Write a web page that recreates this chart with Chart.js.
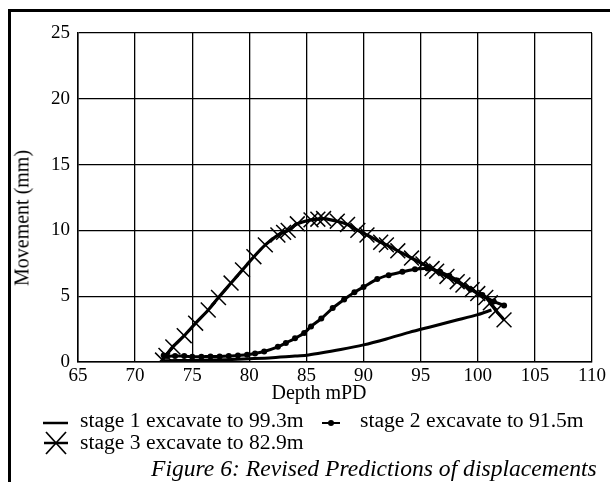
<!DOCTYPE html>
<html>
<head>
<meta charset="utf-8">
<script src="https://cdn.jsdelivr.net/npm/chart.js@4.4.1/dist/chart.umd.min.js"></script>
<style>
    body { margin: 0; background: #fff; }
    #wrap { position: relative; width: 610px; height: 482px; overflow: hidden; font-family: "Liberation Serif", "DejaVu Serif", serif; color: #000; }
    #frame { position: absolute; left: 8px; top: 9px; width: 700px; height: 600px; border-left: 3px solid #000; border-top: 3px solid #000; }
    #chart { position: absolute; left: 0; top: 0; }
    .y-title { position: absolute; left: 22px; top: 218px; transform: translate(-50%, -50%) rotate(-90deg); font-size: 20px; white-space: nowrap; }
    .x-title { position: absolute; left: 319px; top: 382px; transform: translateX(-50%); font-size: 20px; line-height: 20px; white-space: nowrap; }
    .legend-item { position: absolute; font-size: 21.6px; line-height: 22px; white-space: nowrap; }
    .caption { position: absolute; left: 151px; top: 456px; font-size: 23.6px; line-height: 24px; font-style: italic; white-space: nowrap; }
</style>
</head>
<body>
<div id="wrap">
    <div id="frame"></div>
    <canvas id="chart" width="610" height="400"></canvas>
    <div class="y-title">Movement (mm)</div>
    <div class="x-title">Depth mPD</div>
    <div id="legend"></div>
    <div class="caption">Figure 6: Revised Predictions of displacements</div>
</div>
<script>
// ---- data ----
const xTicks = [65, 70, 75, 80, 85, 90, 95, 100, 105, 110];
const yTicks = [0, 5, 10, 15, 20, 25];

const stage1Depth = [72.5, 75, 78, 80, 82, 84, 85, 86, 88, 90, 92, 94, 96, 98, 100, 101.2];
const stage1Move  = [0.1, 0.12, 0.18, 0.25, 0.33, 0.45, 0.52, 0.65, 0.95, 1.3, 1.75, 2.25, 2.7, 3.15, 3.6, 3.95];

const stage2Depth = [72.5, 72.8, 73.5, 74.3, 75.0, 75.8, 76.6, 77.4, 78.2, 79.0, 79.8, 80.5, 81.3, 82.5, 83.2, 84.0, 84.8, 85.4, 86.3, 87.3, 88.3, 89.2, 90.0, 91.2, 92.2, 93.4, 94.5, 95.6, 96.7, 97.5, 98.2, 99.4, 100.4, 101.4, 102.3];
const stage2Move  = [0.5, 0.45, 0.45, 0.45, 0.4, 0.4, 0.42, 0.42, 0.45, 0.5, 0.55, 0.65, 0.8, 1.15, 1.45, 1.8, 2.2, 2.7, 3.3, 4.1, 4.75, 5.3, 5.7, 6.3, 6.6, 6.85, 7.05, 7.1, 6.85, 6.55, 6.2, 5.5, 5.1, 4.6, 4.3];

const stage3Depth = [72.4, 72.7, 73.3, 74.3, 75.3, 76.4, 77.3, 78.4, 79.4, 80.4, 81.4, 82.5, 83.0, 83.4, 84.2, 85.4, 86.0, 86.5, 87.7, 88.6, 89.5, 90.3, 91.5, 92.0, 93.0, 94.2, 95.2, 96.0, 96.4, 97.3, 98.2, 98.7, 99.5, 100.0, 100.7, 101.1, 101.6, 102.3];
const stage3Move  = [0.15, 0.5, 1.15, 2.0, 2.95, 3.95, 4.9, 6.0, 7.0, 8.0, 8.9, 9.65, 9.85, 10.0, 10.5, 10.8, 10.85, 10.9, 10.7, 10.45, 10.0, 9.65, 9.1, 8.9, 8.45, 7.9, 7.45, 7.1, 6.9, 6.5, 6.1, 5.85, 5.5, 5.2, 4.9, 4.5, 3.9, 3.2];

const seriesLabels = ['stage 1 excavate to 99.3m', 'stage 2 excavate to 91.5m', 'stage 3 excavate to 82.9m'];

const toPoints = (xs, ys) => xs.map((x, i) => ({ x: x, y: ys[i] }));

const tickFont = { family: '"Liberation Serif", serif', size: 19 };

new Chart(document.getElementById('chart'), {
    type: 'line',
    data: {
        datasets: [
            {
                label: seriesLabels[0],
                data: toPoints(stage1Depth, stage1Move),
                borderColor: '#000',
                borderWidth: 3,
                pointRadius: 0,
                tension: 0.3,
            },
            {
                label: seriesLabels[1],
                data: toPoints(stage2Depth, stage2Move),
                borderColor: '#000',
                backgroundColor: '#000',
                borderWidth: 3,
                pointRadius: 3,
                pointBorderWidth: 0,
                tension: 0.3,
            },
            {
                label: seriesLabels[2],
                data: toPoints(stage3Depth, stage3Move),
                borderColor: '#000',
                borderWidth: 3.2,
                pointStyle: 'crossRot',
                pointRadius: 10.5,
                pointBorderWidth: 1.5,
                pointBorderColor: '#000',
                tension: 0.3,
            }
        ]
    },
    options: {
        responsive: false,
        animation: false,
        layout: { padding: { top: 33, right: 18, left: 0, bottom: 0 } },
        plugins: { legend: { display: false }, tooltip: { enabled: false } },
        scales: {
            x: {
                type: 'linear',
                min: xTicks[0],
                max: xTicks[xTicks.length - 1],
                afterBuildTicks: s => { s.ticks = xTicks.map(v => ({ value: v })); },
                afterFit: s => { s.height = 38; },
                ticks: { font: tickFont, color: '#000', padding: 3, maxRotation: 0 },
                grid: { color: '#000', lineWidth: 1.3, drawTicks: false },
                border: { color: '#000', width: 1.5 },
            },
            y: {
                min: yTicks[0],
                max: yTicks[yTicks.length - 1],
                afterBuildTicks: s => { s.ticks = yTicks.map(v => ({ value: v })); },
                afterFit: s => { s.width = 78; },
                ticks: { font: tickFont, color: '#000', padding: 8 },
                grid: { color: '#000', lineWidth: 1.3, drawTicks: false },
                border: { color: '#000', width: 1.5 },
            }
        }
    }
});

// legend drawn by hand, two rows like the original
const icons = [
    '<svg width="26" height="22"><line x1="0" y1="14" x2="25" y2="14" stroke="#000" stroke-width="2.5"/></svg>',
    '<svg width="18" height="22"><line x1="0" y1="14" x2="18" y2="14" stroke="#000" stroke-width="2"/><circle cx="9" cy="14" r="3" fill="#000"/></svg>',
    '<svg width="26" height="26"><line x1="1" y1="12" x2="25" y2="12" stroke="#000" stroke-width="2.5"/><line x1="3" y1="1" x2="23" y2="23" stroke="#000" stroke-width="1.7"/><line x1="23" y1="1" x2="3" y2="23" stroke="#000" stroke-width="1.7"/></svg>'
];
const legendPos = [
    { icon: 43, text: 80, top: 409 },
    { icon: 322, text: 360, top: 409 },
    { icon: 43, text: 80, top: 431 },
];
const legendEl = document.getElementById('legend');
seriesLabels.forEach((label, i) => {
    const p = legendPos[i];
    legendEl.innerHTML += `
        <div class="legend-item" style="left:${p.icon}px;top:${p.top}px;width:${p.text - p.icon + 300}px">
            <span style="position:absolute;left:0;top:0">${icons[i]}</span>
            <span style="position:absolute;left:${p.text - p.icon}px;top:0">${label}</span>
        </div>`;
});
</script>
</body>
</html>
